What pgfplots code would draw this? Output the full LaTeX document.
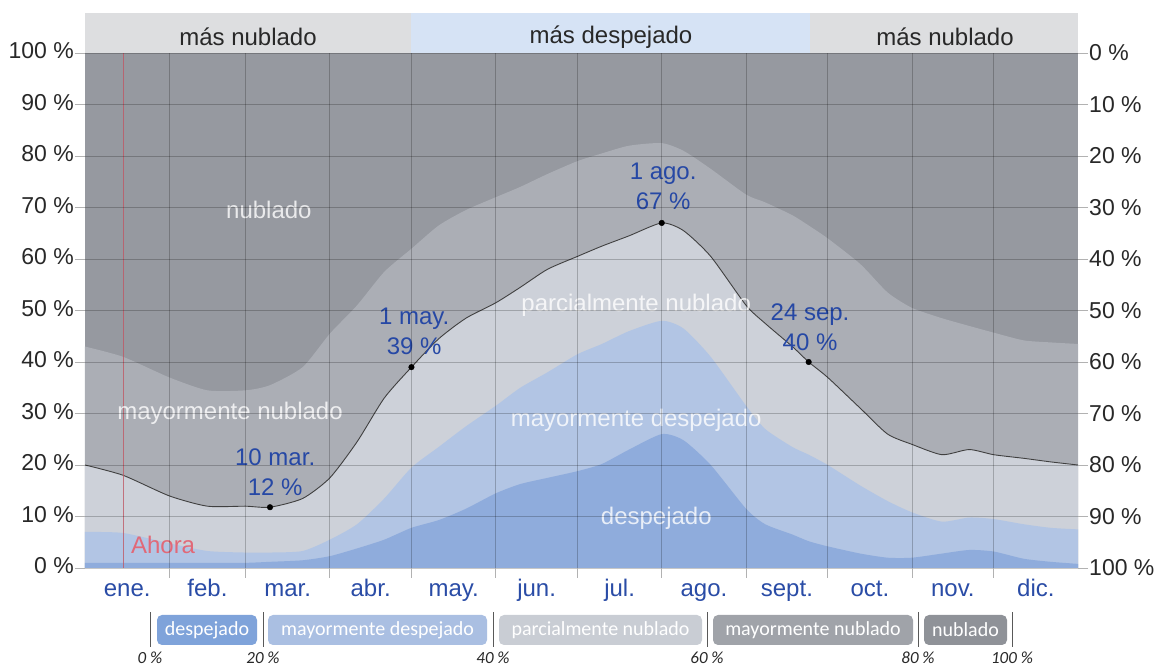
\documentclass[border=0pt]{standalone}
\usepackage{fontspec}
\setmainfont{Liberation Sans}
\newfontfamily\legfont{Carlito}
\usepackage{pgfplots}
\pgfplotsset{compat=1.18}
\usepackage{pgfplotstable}
\definecolor{despC}{RGB}{143,172,220}
\definecolor{mdespC}{RGB}{178,197,228}
\definecolor{pnubC}{RGB}{205,209,217}
\definecolor{mnubC}{RGB}{171,174,181}
\definecolor{nubC}{RGB}{150,153,160}
\definecolor{despL}{RGB}{127,163,218}
\definecolor{mdespL}{RGB}{170,191,226}
\definecolor{pnubL}{RGB}{201,205,212}
\definecolor{mnubL}{RGB}{160,163,169}
\definecolor{nubL}{RGB}{143,146,152}
\definecolor{bandgray}{RGB}{221,222,224}
\definecolor{bandblue}{RGB}{214,227,245}
\definecolor{txtdark}{RGB}{40,40,40}
\definecolor{monthblue}{RGB}{42,76,166}
\definecolor{annblue}{RGB}{38,72,165}
\definecolor{ahora}{RGB}{225,105,120}

\pgfplotstableread{
day L1 L2 L3 L4
0 1.0 7.0 20.0 43.0
14 1.0 6.8 18.0 41.0
31 1.0 4.8 14.0 37.0
45 1.0 3.3 12.0 34.5
59 1.0 3.0 12.0 34.5
68 1.2 3.0 11.8 35.5
80 1.5 3.3 13.5 39.0
90 2.3 5.5 17.5 45.5
100 3.8 8.5 24.5 51.0
110 5.5 13.5 33.0 57.5
120 7.8 19.5 39.0 62.0
130 9.3 23.5 44.5 66.5
140 11.5 27.5 48.5 69.5
151 14.5 31.5 51.5 72.0
160 16.3 35.0 54.5 74.0
170 17.5 38.0 58.0 76.5
181 18.8 41.5 60.5 79.0
190 20.2 43.5 62.5 80.5
200 23.0 46.0 64.5 82.0
212 26.0 48.0 67.0 82.5
220 24.8 46.5 65.5 81.0
230 20.0 41.0 60.5 77.5
243 11.5 31.5 51.0 72.5
250 8.5 27.0 47.5 71.0
260 6.5 23.5 43.0 68.5
266 5.2 22.0 40.0 66.5
273 4.2 20.0 37.0 64.0
285 2.8 16.0 31.0 59.0
295 2.0 13.0 26.0 53.5
304 2.0 10.8 24.0 50.5
315 2.8 9.0 22.0 48.5
325 3.5 9.8 23.0 47.0
334 3.2 9.5 22.0 45.7
345 1.8 8.5 21.3 44.2
355 1.2 7.8 20.6 43.8
365 0.8 7.5 20.0 43.5
}\cloud

\newcommand{\bigf}{\fontsize{24}{30}\selectfont}
\newcommand{\tickf}{\fontsize{23}{28}\selectfont}

\begin{document}
\begin{tikzpicture}[x=1pt,y=1pt]
\useasboundingbox (0,0) rectangle (1159,666);
% top band
\fill[bandgray] (85,613) rectangle (411,653);
\fill[bandblue] (411,613) rectangle (810,653);
\fill[bandgray] (810,613) rectangle (1078,653);
\node[font=\bigf, text=txtdark] at (248,629) {más nublado};
\node[font=\bigf, text=txtdark] at (611,629) {más despejado};
\node[font=\bigf, text=txtdark] at (945,629) {más nublado};

\begin{axis}[at={(85pt,98pt)}, anchor=south west,
  width=993pt, height=515pt, scale only axis,
  xmin=0, xmax=365, ymin=0, ymax=100,
  axis background/.style={fill=nubC},
  axis on top, axis line style={draw=none},
  tick pos=left, tick align=outside,
  major tick length=10pt, minor tick length=10pt,
  tick style={gray!60, line width=0.8pt},
  major x tick style={draw=none},
  xtick={15.5,45,74.5,105,135.5,166,196.5,227.5,258,288.5,319,349.5},
  xticklabels={ene.,feb.,mar.,abr.,may.,jun.,jul.,ago.,sept.,oct.,nov.,dic.},
  minor xtick={31,59,90,120,151,181,212,243,273,304,334},
  xminorgrids=true, ymajorgrids=true,
  grid style={black, opacity=0.22, line width=0.8pt},
  minor grid style={black, opacity=0.22, line width=0.8pt},
  ytick={0,10,...,100},
  yticklabels={0 \%,10 \%,20 \%,30 \%,40 \%,50 \%,60 \%,70 \%,80 \%,90 \%,100 \%},
  typeset ticklabels with strut,
  xticklabel style={font=\bigf, text=monthblue, inner sep=0pt, yshift=3pt},
  yticklabel style={font=\tickf, text=txtdark, inner sep=0pt, xshift=-1pt},
  clip=true,
]
\addplot[fill=mnubC, draw=none, smooth, tension=0.4] table[x=day,y=L4] {\cloud} \closedcycle;
\addplot[fill=pnubC, draw=none, smooth, tension=0.4] table[x=day,y=L3] {\cloud} \closedcycle;
\addplot[fill=mdespC, draw=none, smooth, tension=0.4] table[x=day,y=L2] {\cloud} \closedcycle;
\addplot[fill=despC, draw=none, smooth, tension=0.4] table[x=day,y=L1] {\cloud} \closedcycle;
\addplot[black!75, line width=0.9pt, smooth, tension=0.4] table[x=day,y=L3] {\cloud};
\addplot[ahora!85!black, opacity=0.8, line width=1.1pt] coordinates {(14,0) (14,100)};
\addplot[only marks, mark=*, mark size=2.8pt, black] coordinates {(68,11.8) (120,39) (212,67) (266,40)};
\node[font=\bigf, text=white, text opacity=0.8] at (axis cs:67.6,69.5) {nublado};
\node[font=\bigf, text=white, text opacity=0.8] at (axis cs:53.3,30.1) {mayormente nublado};
\node[font=\bigf, text=white, text opacity=0.8] at (axis cs:202.6,51.1) {parcialmente nublado};
\node[font=\bigf, text=white, text opacity=0.8] at (axis cs:202.6,28.7) {mayormente despejado};
\node[font=\bigf, text=white, text opacity=0.8] at (axis cs:210,9.7) {despejado};
\node[font=\bigf, text=ahora] at (axis cs:28.7,4.5) {Ahora};
\node[font=\bigf, align=center, text=annblue] at (axis cs:69.9,18.6) {10 mar.\\12 \%};
\node[font=\bigf, align=center, text=annblue] at (axis cs:121,46.0) {1 may.\\39 \%};
\node[font=\bigf, align=center, text=annblue] at (axis cs:212.5,74.2) {1 ago.\\67 \%};
\node[font=\bigf, align=center, text=annblue] at (axis cs:266.5,46.7) {24 sep.\\40 \%};
\end{axis}

\begin{axis}[at={(85pt,98pt)}, anchor=south west,
  width=993pt, height=515pt, scale only axis,
  xmin=0, xmax=365, ymin=0, ymax=100,
  hide x axis, axis line style={draw=none},
  ytick pos=right, tick align=outside,
  major tick length=10pt,
  tick style={gray!60, line width=0.8pt},
  ytick={0,10,...,100},
  yticklabels={100 \%,90 \%,80 \%,70 \%,60 \%,50 \%,40 \%,30 \%,20 \%,10 \%,0 \%},
  yticklabel style={font=\tickf, text=txtdark, inner sep=0pt, xshift=1pt},
]
\addplot[draw=none] coordinates {(0,0) (365,100)};
\end{axis}

% legend
\begin{scope}
\fill[despL, rounded corners=5pt] (157,21) rectangle (257,51);
\fill[mdespL, rounded corners=5pt] (268,21) rectangle (487,51);
\fill[pnubL, rounded corners=5pt] (499,21) rectangle (702,51);
\fill[mnubL, rounded corners=5pt] (713,21) rectangle (913,51);
\fill[nubL, rounded corners=5pt] (924,21) rectangle (1007,51);
\foreach \x in {150,263,493,707,918,1012}{\draw[gray!70!black, line width=0.9pt] (\x,19) -- (\x,54);}
\node[font=\legfont\fontsize{20}{24}\selectfont, text=white] at (207,36) {despejado};
\node[font=\legfont\fontsize{20}{24}\selectfont, text=white] at (377.5,36) {mayormente despejado};
\node[font=\legfont\fontsize{20}{24}\selectfont, text=white] at (600.5,36) {parcialmente nublado};
\node[font=\legfont\fontsize{20}{24}\selectfont, text=white] at (813,36) {mayormente nublado};
\node[font=\legfont\fontsize{20}{24}\selectfont, text=white] at (965.5,36) {nublado};
\foreach \x/\p in {150/0,263/20,493/40,707/60,918/80,1012/100}{
  \node[font=\legfont\itshape\fontsize{17}{19}\selectfont, text=txtdark] at (\x,8) {\p~\%};
}
\end{scope}
\end{tikzpicture}
\end{document}
